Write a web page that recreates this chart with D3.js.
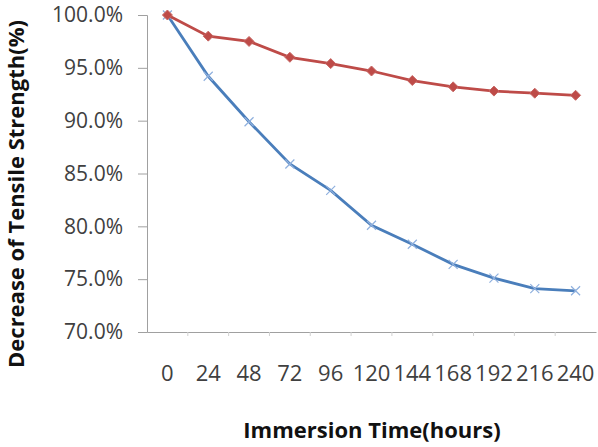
<!DOCTYPE html>
<html><head><meta charset="utf-8">
<script src="https://cdn.jsdelivr.net/npm/d3@7"></script>
<style>body{margin:0;background:#fff}svg{display:block}</style>
</head><body>
<svg id="c" width="598" height="447"></svg>
<script>
const categories = ["0","24","48","72","96","120","144","168","192","216","240"];
const seriesRed = [100.0, 98.0, 97.5, 96.0, 95.4, 94.7, 93.8, 93.2, 92.8, 92.6, 92.4];
const seriesBlue = [100.0, 94.2, 89.9, 85.9, 83.4, 80.1, 78.3, 76.4, 75.1, 74.1, 73.9];
const yTicks = [70, 75, 80, 85, 90, 95, 100];

(function () {
const svg = d3.select("#c");
const mLeft = 147, mRight = 596, mTop = 15, mBottom = 332;
const x = d3.scaleBand().domain(categories).range([mLeft, mRight]);
const y = d3.scaleLinear().domain([70, 100]).range([mBottom, mTop]);
const font = "'Open Sans', 'Noto Sans', sans-serif";

// y axis
const ya = svg.append("g").attr("transform", `translate(${mLeft},0)`)
  .call(d3.axisLeft(y).tickValues(yTicks).tickSize(9).tickPadding(15).tickFormat(d => d.toFixed(1) + "%"));
ya.select(".domain").attr("stroke", "#a0a0a0");
ya.selectAll(".tick line").attr("stroke", "#a0a0a0");
ya.selectAll("text").attr("font-family", font).attr("font-size", 21).attr("fill", "#404040");

// x axis
const xa = svg.append("g").attr("transform", `translate(0,${mBottom})`)
  .call(d3.axisBottom(x).tickSize(0).tickPadding(33).tickSizeOuter(0));
xa.select(".domain").attr("stroke", "#a0a0a0");
xa.selectAll("text").attr("font-family", font).attr("font-size", 22).attr("fill", "#404040");
// category separator ticks
svg.append("g").selectAll("line").data(categories.slice(1)).join("line")
  .attr("x1", d => x(d)).attr("x2", d => x(d))
  .attr("y1", mBottom).attr("y2", mBottom + 4).attr("stroke", "#d0d0d0");

const line = d3.line().x((d, i) => x(categories[i]) + x.bandwidth() / 2).y(d => y(d));

// blue series
svg.append("path").datum(seriesBlue).attr("d", line).attr("fill", "none")
  .attr("stroke", "#4a7ebb").attr("stroke-width", 2.8);
svg.append("g").selectAll("path").data(seriesBlue).join("path")
  .attr("transform", (d, i) => `translate(${x(categories[i]) + x.bandwidth() / 2},${y(d)})`)
  .attr("d", "M-4.5,-4.5L4.5,4.5M-4.5,4.5L4.5,-4.5").attr("stroke", "#8fb0de").attr("stroke-width", 1.2).attr("fill", "none");

// red series
svg.append("path").datum(seriesRed).attr("d", line).attr("fill", "none")
  .attr("stroke", "#be4b48").attr("stroke-width", 2.8);
svg.append("g").selectAll("path").data(seriesRed).join("path")
  .attr("transform", (d, i) => `translate(${x(categories[i]) + x.bandwidth() / 2},${y(d)})`)
  .attr("d", "M0,-5L5,0L0,5L-5,0Z").attr("fill", "#be4b48").attr("stroke", "#c86865");

// axis titles
svg.append("text").attr("x", 372).attr("y", 438).attr("text-anchor", "middle")
  .attr("font-family", font).attr("font-weight", "bold").attr("font-size", 22).attr("fill", "#111")
  .text("Immersion Time(hours)");
svg.append("text").attr("transform", "translate(24,194) rotate(-90)").attr("text-anchor", "middle")
  .attr("font-family", font).attr("font-weight", "bold").attr("font-size", 22).attr("fill", "#111")
  .text("Decrease of Tensile Strength(%)");
})();
</script>
</body></html>
